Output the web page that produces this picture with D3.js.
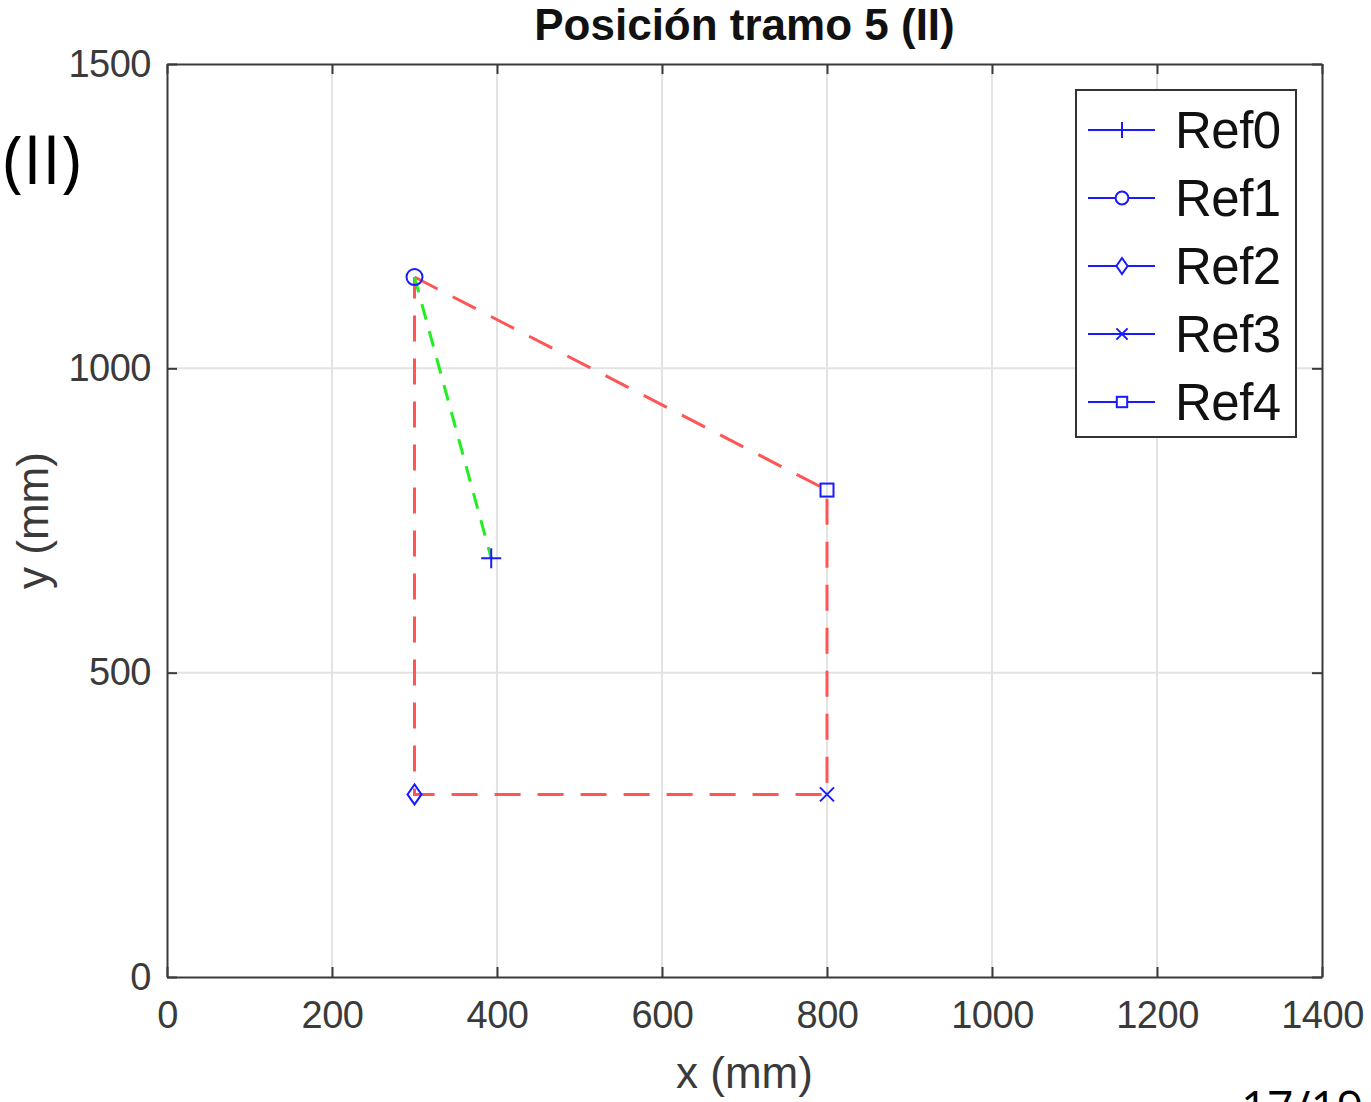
<!DOCTYPE html>
<html>
<head>
<meta charset="utf-8">
<script src="https://cdn.jsdelivr.net/npm/d3@7"></script>
<style>
  body { margin: 0; background: #fff; }
  svg { display: block; font-family: "Liberation Sans", Arial, sans-serif; }
</style>
</head>
<body>
<svg id="chart" width="1371" height="1102"></svg>
<script>
// reference points (mm)
var refNames = ["Ref0", "Ref1", "Ref2", "Ref3", "Ref4"];
var refX = [393, 300, 300, 800, 800];
var refY = [688, 1150, 300, 300, 800];
var refSymbols = ["plus", "circle", "diamond", "cross", "square"];

// dashed red outline: Ref1 -> Ref4 -> Ref3 -> Ref2 -> Ref1
var outlineOrder = [1, 4, 3, 2, 1];
// dashed green segment: Ref1 -> Ref0
var pathOrder = [1, 0];

var xTicks = [0, 200, 400, 600, 800, 1000, 1200, 1400];
var yTicks = [0, 500, 1000, 1500];

(function () {
var svg = d3.select("#chart");
var pL = 167, pR = 1322, pT = 64, pB = 977;

var x = d3.scaleLinear().domain([0, 1400]).range([pL, pR]);
var y = d3.scaleLinear().domain([0, 1500]).range([pB, pT]);
var fmt = d3.format("d");

// grid
svg.append("g").selectAll("line").data(xTicks.slice(1, -1)).join("line")
    .attr("x1", d => x(d)).attr("x2", d => x(d))
    .attr("y1", pT).attr("y2", pB)
    .attr("stroke", "#e3e3e3").attr("stroke-width", 2);
svg.append("g").selectAll("line").data(yTicks.slice(1, -1)).join("line")
    .attr("y1", d => y(d)).attr("y2", d => y(d))
    .attr("x1", pL).attr("x2", pR)
    .attr("stroke", "#e3e3e3").attr("stroke-width", 2);

// axes (ticks pointing inward, on all four sides)
var tickLen = 10;
var axisColor = "#3a3a3a";
var gx = svg.append("g").attr("transform", "translate(0," + pB + ")")
    .call(d3.axisBottom(x).tickValues(xTicks).tickFormat(fmt).tickSizeInner(-tickLen).tickSizeOuter(0).tickPadding(24));
var gy = svg.append("g").attr("transform", "translate(" + pL + ",0)")
    .call(d3.axisLeft(y).tickValues(yTicks).tickFormat(fmt).tickSizeInner(-tickLen).tickSizeOuter(0).tickPadding(16));
var gxt = svg.append("g").attr("transform", "translate(0," + pT + ")")
    .call(d3.axisTop(x).tickValues(xTicks).tickSizeInner(-tickLen).tickSizeOuter(0).tickFormat(""));
var gyr = svg.append("g").attr("transform", "translate(" + pR + ",0)")
    .call(d3.axisRight(y).tickValues(yTicks).tickSizeInner(-tickLen).tickSizeOuter(0).tickFormat(""));

[gx, gy, gxt, gyr].forEach(function (g) {
    g.select(".domain").attr("stroke", axisColor).attr("stroke-width", 2);
    g.selectAll(".tick line").attr("stroke", axisColor).attr("stroke-width", 2);
    g.selectAll(".tick text").attr("fill", "#3a3a3a")
        .style("font-size", "38px").style("letter-spacing", "-0.5px")
        .style("font-family", "Liberation Sans, Arial, sans-serif");
});
gx.selectAll(".tick text").attr("dy", "0.71em");

// axis labels and title
svg.append("text").attr("x", x(700)).attr("y", 1088)
    .attr("text-anchor", "middle").attr("fill", "#3a3a3a")
    .style("font-size", "44px").text("x (mm)");
svg.append("text").attr("transform", "translate(48," + y(750) + ") rotate(-90)")
    .attr("text-anchor", "middle").attr("fill", "#3a3a3a")
    .style("font-size", "44px").text("y (mm)");
svg.append("text").attr("x", x(700)).attr("y", 40)
    .attr("text-anchor", "middle").attr("fill", "#111")
    .style("font-size", "44px").style("font-weight", "bold")
    .text("Posición tramo 5 (II)");

// lines
var line = d3.line().x(i => x(refX[i])).y(i => y(refY[i]));
svg.append("path").datum(outlineOrder).attr("d", line)
    .attr("fill", "none").attr("stroke", "#ff5555").attr("stroke-width", 3)
    .attr("stroke-dasharray", "26,17");
svg.append("path").datum(pathOrder).attr("d", line)
    .attr("fill", "none").attr("stroke", "#22ee22").attr("stroke-width", 3)
    .attr("stroke-dasharray", "16,12");

// markers
function marker(g, type, cx, cy, s) {
    var blue = "#1a1aff";
    var m = g.append("g").attr("transform", "translate(" + cx + "," + cy + ")")
        .attr("fill", "none").attr("stroke", blue).attr("stroke-width", 2);
    if (type === "plus") {
        m.append("path").attr("d", "M" + (-s) + ",0H" + s + "M0," + (-s) + "V" + s);
    } else if (type === "circle") {
        m.append("circle").attr("r", s * 0.8);
    } else if (type === "diamond") {
        m.append("path").attr("d", "M0," + (-s) + "L" + (s * 0.7) + ",0L0," + s + "L" + (-s * 0.7) + ",0Z");
    } else if (type === "cross") {
        var c = s * 0.7;
        m.append("path").attr("d", "M" + (-c) + "," + (-c) + "L" + c + "," + c + "M" + (-c) + "," + c + "L" + c + "," + (-c));
    } else if (type === "square") {
        m.append("rect").attr("x", -s * 0.65).attr("y", -s * 0.65).attr("width", s * 1.3).attr("height", s * 1.3);
    }
}
var gm = svg.append("g");
refNames.forEach(function (n, i) {
    marker(gm, refSymbols[i], x(refX[i]), y(refY[i]), 10);
});

// legend
var lg = svg.append("g");
lg.append("rect").attr("x", 1076).attr("y", 90).attr("width", 220).attr("height", 347)
    .attr("fill", "#fff").attr("stroke", "#333").attr("stroke-width", 2);
refNames.forEach(function (n, i) {
    var ly = 130 + i * 68;
    lg.append("line").attr("x1", 1088).attr("x2", 1155).attr("y1", ly).attr("y2", ly)
        .attr("stroke", "#1a1aff").attr("stroke-width", 2);
    if (refSymbols[i] !== "plus" && refSymbols[i] !== "cross") {
        lg.append("rect").attr("x", 1116).attr("y", ly - 6).attr("width", 12).attr("height", 12).attr("fill", "#fff");
    }
    marker(lg, refSymbols[i], 1122, ly, 8);
    lg.append("text").attr("x", 1175).attr("y", ly).attr("dy", "0.36em")
        .attr("fill", "#111").style("font-size", "51px").style("letter-spacing", "-0.5px").text(n);
});

// slide annotations
svg.append("text").attr("x", 3).attr("y", 184).attr("fill", "#000")
    .style("font-family", "Open Sans, Noto Sans, sans-serif").style("font-size", "68px").text("(II)");
svg.append("text").attr("x", 1241).attr("y", 1124).attr("fill", "#000")
    .style("font-family", "Open Sans, Noto Sans, sans-serif").style("font-size", "46px").text("17/19");
})();
</script>
</body>
</html>
